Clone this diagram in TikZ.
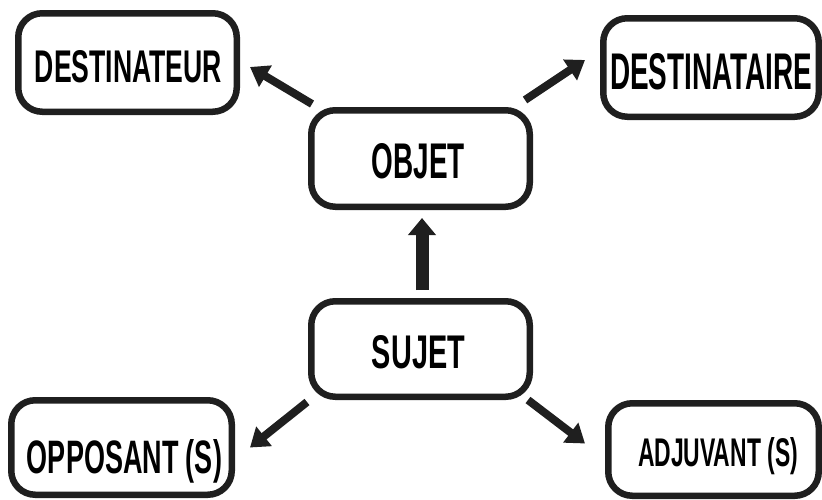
\documentclass[tikz,border=0pt]{standalone}
\usepackage{fontspec}
\setmainfont{Liberation Sans}
\usepackage{graphicx}
\usetikzlibrary{arrows.meta,calc}
\newcommand\lbl[3]{\resizebox{#1pt}{#2pt}{\bfseries #3}}
\tikzset{
  box/.style={draw=black!88, line width=6.5pt, rounded corners=24pt, fill=white, inner sep=0pt},
  txt/.style={inner sep=0pt, text depth=0pt, anchor=center, text=black},
  conn/.style={line width=8pt, draw=black!88, -{Triangle[length=18pt,width=24pt]}},
  bigconn/.style={line width=13pt, draw=black!88, -{Triangle[length=17pt,width=27pt]}}
}
\begin{document}
\begin{tikzpicture}[x=1pt,y=-1pt]
\useasboundingbox (0,0) rectangle (822,499);
% boxes (centres and path sizes in px)
\node[box, minimum width=218.5pt, minimum height=98.5pt] (dtr) at (127.5,62.5) {};
\node[box, minimum width=218.5pt, minimum height=96.5pt] (obj) at (420.5,158.5) {};
\node[box, minimum width=215.5pt, minimum height=98.5pt] (dta) at (711,67.5) {};
\node[box, minimum width=218.5pt, minimum height=95.5pt] (suj) at (420.5,349) {};
\node[box, minimum width=220.5pt, minimum height=94.5pt] (opp) at (121.5,447.5) {};
\node[box, minimum width=210.5pt, minimum height=92.5pt] (adj) at (713.5,449.5) {};
% texts
\node[txt] (dtrT) at (128.5,66) {\lbl{187}{32}{DESTINATEUR}};
\node[txt] (objT) at (418.5,160.5) {\lbl{93}{35}{OBJET}};
\node[txt] (dtaT) at (711,71.5) {\lbl{202}{36}{DESTINATAIRE}};
\node[txt] (sujT) at (418.5,351.5) {\lbl{93}{33}{SUJET}};
\node[txt] (oppT) at (124.5,456.5) {\lbl{195}{34}{OPPOSANT (S)}};
\node[txt] (adjT) at (718,452) {\lbl{160}{29}{ADJUVANT (S)}};
% connectors
\draw[conn] ($(obj.north west)+(4,-3)$) -- ($(dtr.east)+(10,4.5)$);
\draw[conn] ($(obj.north east)+(-8,-7)$) -- ($(dta.west)+(-15,-7.5)$);
\draw[bigconn] ($(suj.north)+(1.5,-8)$) -- ($(obj.south)+(1.5,8)$);
\draw[conn] ($(suj.south west)+(-1,2)$) -- ($(opp.east)+(15,0)$);
\draw[conn] ($(suj.south east)+(-5,0)$) -- ($(adj.west)+(-20,-6)$);
\end{tikzpicture}
\end{document}
